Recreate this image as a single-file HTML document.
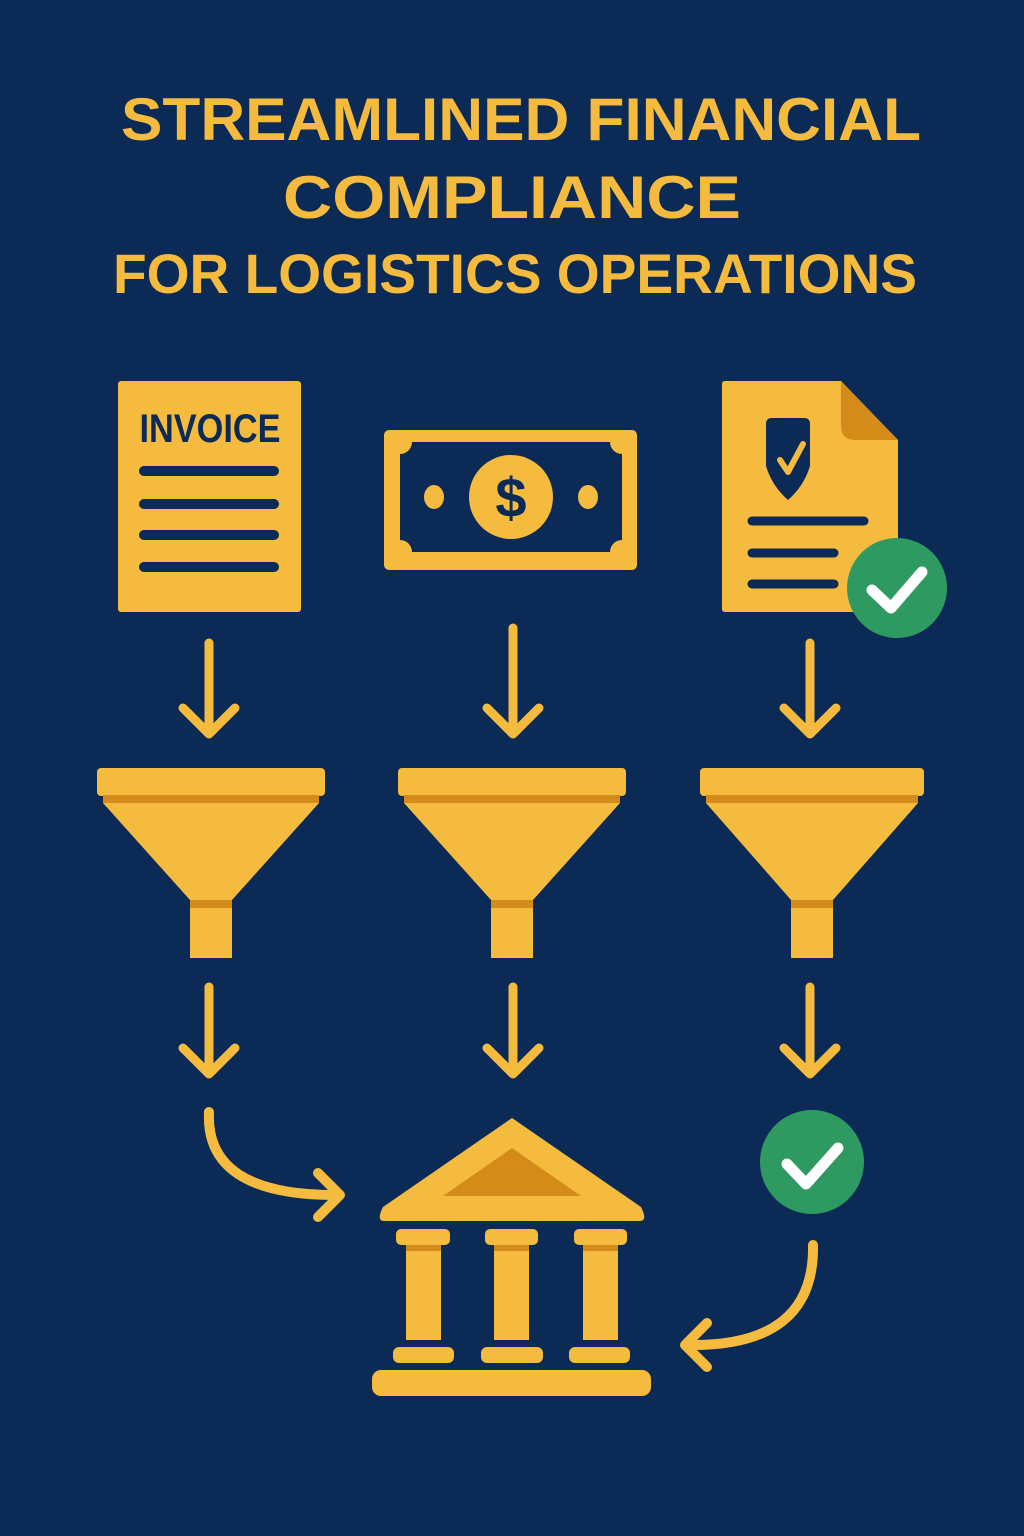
<!DOCTYPE html>
<html><head><meta charset="utf-8"><style>
html,body{margin:0;padding:0;background:#0b2a55;}
svg{display:block;}
</style></head><body>
<svg width="1024" height="1536" viewBox="0 0 1024 1536" xmlns="http://www.w3.org/2000/svg">
<rect width="1024" height="1536" fill="#0b2a55"/>
<g font-family="'Liberation Sans', sans-serif" font-weight="bold" fill="#f4bb3f" text-anchor="middle">
<text x="521" y="140" font-size="60" textLength="800" lengthAdjust="spacingAndGlyphs">STREAMLINED FINANCIAL</text>
<text x="512" y="218" font-size="60" textLength="458" lengthAdjust="spacingAndGlyphs">COMPLIANCE</text>
<text x="515" y="293" font-size="56" textLength="804" lengthAdjust="spacingAndGlyphs">FOR LOGISTICS OPERATIONS</text>
</g>

<g>
<rect x="118" y="381" width="183" height="231" rx="3" fill="#f4bb3f"/>
<text x="210" y="442" font-family="'Liberation Sans', sans-serif" font-weight="bold" font-size="40" fill="#0b2a55" text-anchor="middle" textLength="141" lengthAdjust="spacingAndGlyphs">INVOICE</text>
<g stroke="#0b2a55" stroke-width="10" stroke-linecap="round">
<line x1="144" y1="471" x2="274" y2="471"/><line x1="144" y1="504" x2="274" y2="504"/>
<line x1="144" y1="535" x2="274" y2="535"/><line x1="144" y1="567" x2="274" y2="567"/>
</g></g>

<g>
<rect x="384" y="430" width="253" height="140" rx="5" fill="#f4bb3f"/>
<rect x="400" y="493" width="222" height="0" fill="none"/>
<rect x="401" y="494" width="220" height="0" fill="none"/>
<rect x="400" y="493" width="222" height="110" fill="none"/>
<rect x="400" y="444" width="222" height="110" fill="#0b2a55" transform="translate(0,-2)"/>
<circle cx="400" cy="442" r="12" fill="#f4bb3f"/><circle cx="622" cy="442" r="12" fill="#f4bb3f"/>
<circle cx="400" cy="552" r="12" fill="#f4bb3f"/><circle cx="622" cy="552" r="12" fill="#f4bb3f"/>
<circle cx="511" cy="497" r="42" fill="#f4bb3f"/>
<text x="511" y="517" font-family="'Liberation Sans', sans-serif" font-weight="bold" font-size="56" fill="#0b2a55" text-anchor="middle">$</text>
<ellipse cx="434" cy="497" rx="10" ry="12" fill="#f4bb3f"/>
<ellipse cx="588" cy="497" rx="10" ry="12" fill="#f4bb3f"/>
</g>

<g>
<path d="M722,384 Q722,381 725,381 L841,381 L898,440 L898,609 Q898,612 895,612 L725,612 Q722,612 722,609 Z" fill="#f4bb3f"/>
<path d="M841,381 L898,440 L855,440 Q841,440 841,425 Z" fill="#d48b1a"/>
<path d="M766,424 Q766,418 772,418 L804,418 Q810,418 810,424 L810,466 Q804,486 788,500 Q772,486 766,466 Z" fill="#0b2a55"/>
<path d="M780,460 L788,472 L803,444" stroke="#f4bb3f" stroke-width="6" fill="none" stroke-linecap="round" stroke-linejoin="round"/>
<g stroke="#0b2a55" stroke-width="9" stroke-linecap="round">
<line x1="752" y1="521" x2="864" y2="521"/><line x1="752" y1="553" x2="834" y2="553"/><line x1="752" y1="584" x2="834" y2="584"/>
</g>
<circle cx="897" cy="588" r="50" fill="#2e9a62"/>
<path d="M872,590 L891,608 L922,572" stroke="#fff" stroke-width="11" fill="none" stroke-linecap="round" stroke-linejoin="round"/>
</g>

<g stroke="#f4bb3f" stroke-width="9" fill="none" stroke-linecap="round" stroke-linejoin="round">
<path d="M209,643 V733 M183,708 L209,734 L235,708"/>
<path d="M513,628 V733 M487,708 L513,734 L539,708"/>
<path d="M810,643 V733 M784,708 L810,734 L836,708"/>
<path d="M209,987 V1073 M183,1048 L209,1074 L235,1048"/>
<path d="M513,987 V1073 M487,1048 L513,1074 L539,1048"/>
<path d="M810,987 V1073 M784,1048 L810,1074 L836,1048"/>
</g>

<g>
<g transform="translate(211,0)">
<rect x="-114" y="768" width="228" height="28" rx="4" fill="#f4bb3f"/><rect x="-108" y="795" width="216" height="8" fill="#d48b1a"/>
<path d="M-108,803 L108,803 L21,900 L-21,900 Z" fill="#f4bb3f"/>
<rect x="-21" y="900" width="42" height="58" fill="#f4bb3f"/><rect x="-21" y="900" width="42" height="8" fill="#d48b1a"/>
</g>
<g transform="translate(512,0)">
<rect x="-114" y="768" width="228" height="28" rx="4" fill="#f4bb3f"/><rect x="-108" y="795" width="216" height="8" fill="#d48b1a"/>
<path d="M-108,803 L108,803 L21,900 L-21,900 Z" fill="#f4bb3f"/>
<rect x="-21" y="900" width="42" height="58" fill="#f4bb3f"/><rect x="-21" y="900" width="42" height="8" fill="#d48b1a"/>
</g>
<g transform="translate(812,0)">
<rect x="-112" y="768" width="224" height="28" rx="4" fill="#f4bb3f"/><rect x="-106" y="795" width="212" height="8" fill="#d48b1a"/>
<path d="M-106,803 L106,803 L21,900 L-21,900 Z" fill="#f4bb3f"/>
<rect x="-21" y="900" width="42" height="58" fill="#f4bb3f"/><rect x="-21" y="900" width="42" height="8" fill="#d48b1a"/>
</g>
</g>

<g stroke="#f4bb3f" stroke-width="10" fill="none" stroke-linecap="round" stroke-linejoin="round">
<path d="M209,1112 Q205,1195 335,1195 M318,1173 L340,1195 L318,1217"/>
<path d="M813,1245 Q815,1347 688,1345 M707,1323 L685,1345 L707,1367"/>
</g>

<g>
<circle cx="812" cy="1162" r="52" fill="#2e9a62"/>
<path d="M787,1164 L806,1184 L838,1148" stroke="#fff" stroke-width="11" fill="none" stroke-linecap="round" stroke-linejoin="round"/>
</g>

<g fill="#f4bb3f">
<path d="M512,1118 L641,1207 Q648,1221 640,1221 L384,1221 Q376,1221 383,1207 Z"/>
<path d="M512,1148 L581,1196 L443,1196 Z" fill="#d48b1a"/>
<rect x="396" y="1229" width="54" height="16" rx="5"/><rect x="485" y="1229" width="53" height="16" rx="5"/><rect x="574" y="1229" width="53" height="16" rx="5"/>
<rect x="406" y="1245" width="35" height="95"/><rect x="494" y="1245" width="35" height="95"/><rect x="583" y="1245" width="35" height="95"/>
<rect x="406" y="1245" width="35" height="6" fill="#d48b1a"/><rect x="494" y="1245" width="35" height="6" fill="#d48b1a"/><rect x="583" y="1245" width="35" height="6" fill="#d48b1a"/>
<rect x="393" y="1347" width="61" height="16" rx="6"/><rect x="481" y="1347" width="62" height="16" rx="6"/><rect x="569" y="1347" width="61" height="16" rx="6"/>
<rect x="372" y="1370" width="279" height="26" rx="9"/>
</g>
</svg>
</body></html>
